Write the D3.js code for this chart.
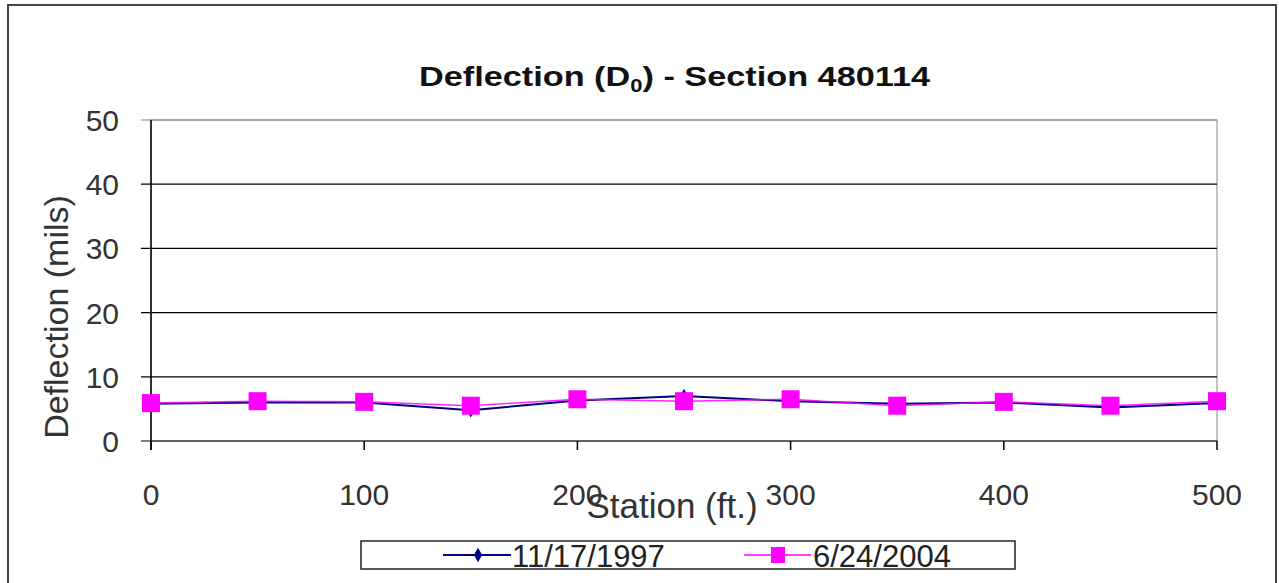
<!DOCTYPE html>
<html>
<head>
<meta charset="utf-8">
<script src="https://cdn.jsdelivr.net/npm/d3@7"></script>
<style>
  body { margin: 0; background: #fff; }
  text { font-family: "Liberation Sans", Arial, sans-serif; }
</style>
</head>
<body>
<script>
// stations and deflection readings
let stations = [0, 50, 100, 150, 200, 250, 300, 350, 400, 450, 500];
let d1997 = [5.8, 6.0, 6.0, 4.8, 6.3, 7.0, 6.2, 5.8, 6.0, 5.2, 5.9];
let d2004 = [5.9, 6.2, 6.1, 5.5, 6.5, 6.2, 6.5, 5.5, 6.1, 5.5, 6.2];
let xTicks = [0, 100, 200, 300, 400, 500];
let yTicks = [0, 10, 20, 30, 40, 50];
let seriesNames = ["11/17/1997", "6/24/2004"];

let svg = d3.select("body").append("svg")
    .attr("width", 1279)
    .attr("height", 583);

// outer chart border
svg.append("rect")
    .attr("x", 8).attr("y", 5)
    .attr("width", 1268).attr("height", 600)
    .attr("fill", "none")
    .attr("stroke", "#444")
    .attr("stroke-width", 2);

let x = d3.scaleLinear().domain([0, 500]).range([151, 1217]);
let y = d3.scaleLinear().domain([0, 50]).range([441, 120]);

// plot border (gray)
svg.append("rect")
    .attr("x", x(0)).attr("y", y(50))
    .attr("width", x(500) - x(0)).attr("height", y(0) - y(50))
    .attr("fill", "none")
    .attr("stroke", "#888")
    .attr("stroke-width", 1);

// gridlines
yTicks.forEach(t =>
    svg.append("line")
        .attr("x1", x(0) - 10).attr("x2", x(500))
        .attr("y1", y(t)).attr("y2", y(t))
        .attr("stroke", t == 50 ? "#888" : "#000")
        .attr("stroke-width", 1.2)
);
// tick marks on x
xTicks.forEach(t =>
    svg.append("line")
        .attr("x1", x(t)).attr("x2", x(t))
        .attr("y1", y(0)).attr("y2", y(0) + 9)
        .attr("stroke", "#000")
        .attr("stroke-width", 1.5)
);
// y axis line
svg.append("line")
    .attr("x1", x(0)).attr("x2", x(0))
    .attr("y1", y(50)).attr("y2", y(0) + 9)
    .attr("stroke", "#000").attr("stroke-width", 1.5);

// y tick labels
yTicks.forEach(t =>
    svg.append("text")
        .attr("x", 119).attr("y", y(t) + 11)
        .attr("text-anchor", "end")
        .attr("font-size", 30)
        .attr("fill", "#333")
        .text(t)
);
// x tick labels
xTicks.forEach(t =>
    svg.append("text")
        .attr("x", x(t)).attr("y", 505)
        .attr("text-anchor", "middle")
        .attr("font-size", 30)
        .attr("fill", "#333")
        .text(t)
);

// axis titles
svg.append("text")
    .attr("transform", "translate(68,317) rotate(-90)")
    .attr("text-anchor", "middle")
    .attr("font-size", 34)
    .attr("fill", "#333")
    .text("Deflection (mils)");
svg.append("text")
    .attr("x", 672).attr("y", 518)
    .attr("text-anchor", "middle")
    .attr("font-size", 35)
    .attr("fill", "#333")
    .text("Station (ft.)");

// title
let title = svg.append("text")
    .attr("x", 419).attr("y", 86)
    .attr("font-size", 28)
    .attr("font-weight", "bold")
    .attr("fill", "#111")
    .attr("textLength", 511)
    .attr("lengthAdjust", "spacingAndGlyphs");
title.append("tspan").text("Deflection (D");
title.append("tspan").attr("font-size", 18).attr("dy", 6).text("0");
title.append("tspan").attr("dy", -6).text(") - Section 480114");

let line = d3.line()
    .x((d, i) => x(stations[i]))
    .y(d => y(d));

// 1997 series
svg.append("path")
    .datum(d1997)
    .attr("d", line)
    .attr("fill", "none")
    .attr("stroke", "#000080")
    .attr("stroke-width", 2);
let diamond = d3.symbol().type(d3.symbolDiamond).size(60);
svg.selectAll(".p1").data(d1997).enter().append("path")
    .attr("transform", (d, i) => "translate(" + x(stations[i]) + "," + y(d) + ")")
    .attr("d", diamond)
    .attr("fill", "#000080");

// 2004 series
svg.append("path")
    .datum(d2004)
    .attr("d", line)
    .attr("fill", "none")
    .attr("stroke", "#ff00ff")
    .attr("stroke-width", 1.5)
    .attr("opacity", 0.85);
svg.selectAll(".p2").data(d2004).enter().append("rect")
    .attr("x", (d, i) => x(stations[i]) - 9)
    .attr("y", d => y(d) - 9)
    .attr("width", 18).attr("height", 18)
    .attr("fill", "#ff00ff");

// legend
svg.append("rect")
    .attr("x", 361).attr("y", 541)
    .attr("width", 654).attr("height", 28)
    .attr("fill", "#fff")
    .attr("stroke", "#222")
    .attr("stroke-width", 1.5);
let ly = 555;
svg.append("line").attr("x1", 443).attr("x2", 511).attr("y1", ly).attr("y2", ly)
    .attr("stroke", "#000080").attr("stroke-width", 2);
svg.append("path").attr("transform", "translate(478," + ly + ")")
    .attr("d", diamond).attr("fill", "#000080");
svg.append("text").attr("x", 512).attr("y", ly + 12)
    .attr("font-size", 31).attr("fill", "#222").text(seriesNames[0]);
svg.append("line").attr("x1", 744).attr("x2", 811).attr("y1", ly).attr("y2", ly)
    .attr("stroke", "#ff00ff").attr("stroke-width", 1.5);
svg.append("rect").attr("x", 771).attr("y", ly - 8).attr("width", 14).attr("height", 16)
    .attr("fill", "#ff00ff");
svg.append("text").attr("x", 813).attr("y", ly + 12)
    .attr("font-size", 31).attr("fill", "#222").text(seriesNames[1]);
</script>
</body>
</html>
